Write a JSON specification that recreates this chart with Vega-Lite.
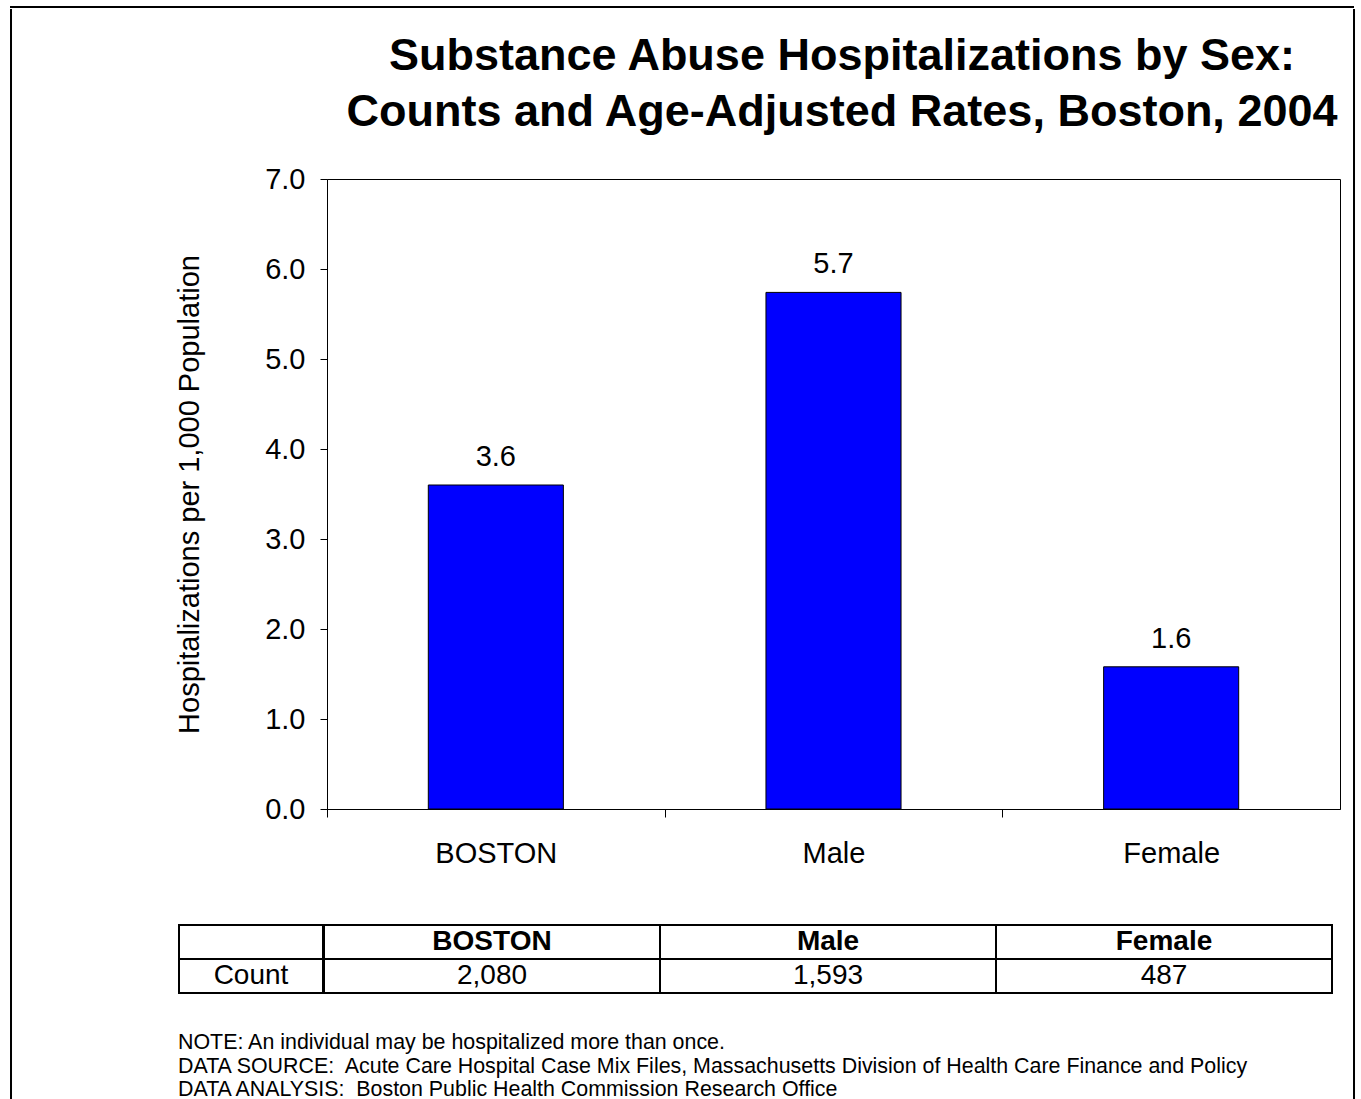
{
  "$schema": "https://vega.github.io/schema/vega-lite/v6.json",
  "background": "white",
  "padding": {"left": 10, "top": 6, "right": 5, "bottom": 0},
  "datasets": {
    "rates": [
      {"group": "BOSTON", "rate": 3.6, "count": 2080},
      {"group": "Male", "rate": 5.74, "count": 1593},
      {"group": "Female", "rate": 1.58, "count": 487}
    ],
    "rowlabels": [
      {"row": "group", "label": ""},
      {"row": "count", "label": "Count"}
    ],
    "empty": []
  },
  "config": {
    "font": "Liberation Sans",
    "view": {"stroke": "black", "strokeWidth": 1},
    "axis": {"domainColor": "black", "tickColor": "black", "labelColor": "black", "titleColor": "black", "grid": false, "labelFont": "Liberation Sans", "titleFont": "Liberation Sans"}
  },
  "resolve": {"scale": {"x": "independent", "y": "independent"}},
  "spacing": 0,
  "vconcat": [
    {
      "width": 1342,
      "height": 0.01,
      "view": {"stroke": "black", "strokeWidth": 2},
      "data": {"name": "empty"},
      "mark": "point"
    },
    {
      "resolve": {"scale": {"x": "independent", "y": "independent"}},
      "spacing": 162,
      "hconcat": [
        {
          "width": 0.01,
          "height": 1100,
          "view": {"stroke": "black", "strokeWidth": 2},
          "data": {"name": "empty"},
          "mark": "point"
        },
        {
          "resolve": {"scale": {"x": "independent", "y": "independent"}},
          "spacing": 12,
          "hconcat": [
            {
              "resolve": {"scale": {"x": "independent", "y": "independent"}},
              "spacing": 29,
              "vconcat": [
                {
                  "width": 1161,
                  "height": 0.01,
                  "view": {"stroke": null},
                  "data": {"name": "empty"},
                  "mark": "point",
                  "title": {
                    "text": ["Substance Abuse Hospitalizations by Sex:", "Counts and Age-Adjusted Rates, Boston, 2004"],
                    "orient": "bottom", "anchor": "middle", "dx": 82.5, "offset": 23.5,
                    "fontSize": 45, "fontWeight": "bold", "lineHeight": 56, "color": "black", "font": "Liberation Sans"
                  }
                },
                {
                  "resolve": {"scale": {"x": "independent", "y": "independent"}},
                  "spacing": 55,
                  "vconcat": [
                    {
                      "resolve": {"scale": {"x": "independent", "y": "independent"}},
                      "spacing": -5,
                      "hconcat": [
                        {
                          "width": 1,
                          "height": 1,
                          "view": {"stroke": null},
                          "data": {"name": "empty"},
                          "mark": "point"
                        },
                        {
                          "width": 1013,
                          "height": 630,
                          "data": {"name": "rates"},
                          "encoding": {
                            "x": {
                              "field": "group", "type": "nominal", "sort": null,
                              "scale": {"paddingInner": 0.6, "paddingOuter": 0.3},
                              "axis": {"title": null, "labelAngle": 0, "labelFontSize": 29, "labelPadding": 22, "tickSize": 8, "tickOffset": -168.83, "labelOffset": 168.83}
                            },
                            "y": {
                              "field": "rate", "type": "quantitative",
                              "scale": {"domain": [0, 7], "nice": false},
                              "axis": {"values": [0, 1, 2, 3, 4, 5, 6, 7], "format": ".1f", "labelFontSize": 29, "labelPadding": 15, "tickSize": 7, "title": "Hospitalizations per 1,000 Population", "titleFontSize": 29, "titleFontWeight": "normal", "titlePadding": 60}
                            }
                          },
                          "layer": [
                            {"mark": {"type": "bar", "fill": "#0000FF", "stroke": "black", "strokeWidth": 1}},
                            {"mark": {"type": "text", "baseline": "alphabetic", "dy": -19, "fontSize": 29, "color": "black"}, "encoding": {"text": {"field": "rate", "type": "quantitative", "format": ".1f"}}}
                          ]
                        }
                      ]
                    },
                    {
                      "resolve": {"scale": {"x": "independent", "y": "independent"}},
                      "spacing": -2,
                      "title": {
                        "text": ["NOTE: An individual may be hospitalized more than once.", "DATA SOURCE:\u00a0 Acute Care Hospital Case Mix Files, Massachusetts Division of Health Care Finance and Policy", "DATA ANALYSIS:\u00a0 Boston Public Health Commission Research Office"],
                        "orient": "bottom", "anchor": "start", "fontSize": 21.4, "fontWeight": "normal", "lineHeight": 23.5, "color": "black", "offset": 38, "font": "Liberation Sans"
                      },
                      "hconcat": [
                        {
                          "width": 144,
                          "height": 68,
                          "view": {"stroke": null},
                          "data": {"name": "rowlabels"},
                          "encoding": {
                            "y": {"field": "row", "type": "nominal", "sort": null, "scale": {"domain": ["group", "count"], "paddingInner": 0, "paddingOuter": 0}, "axis": null}
                          },
                          "layer": [
                            {"mark": {"type": "rect", "fill": "white", "stroke": "black", "strokeWidth": 2}},
                            {"mark": {"type": "text", "fontSize": 28, "color": "black", "baseline": "middle"}, "encoding": {"text": {"field": "label"}}}
                          ]
                        },
                        {
                          "width": 1008,
                          "height": 68,
                          "view": {"stroke": null},
                          "data": {"name": "rates"},
                          "layer": [
                            {
                              "transform": [{"fold": ["group", "count"], "as": ["key", "value"]}],
                              "mark": {"type": "rect", "fill": "white", "stroke": "black", "strokeWidth": 2},
                              "encoding": {
                                "x": {"field": "group", "type": "nominal", "sort": null, "scale": {"paddingInner": 0, "paddingOuter": 0}, "axis": null},
                                "y": {"field": "key", "type": "nominal", "scale": {"domain": ["group", "count"], "paddingInner": 0, "paddingOuter": 0}, "axis": null}
                              }
                            },
                            {
                              "mark": {"type": "text", "fontSize": 28, "fontWeight": "bold", "color": "black", "baseline": "middle"},
                              "encoding": {
                                "x": {"field": "group", "type": "nominal", "sort": null},
                                "y": {"datum": "group", "type": "nominal"},
                                "text": {"field": "group"}
                              }
                            },
                            {
                              "mark": {"type": "text", "fontSize": 28, "color": "black", "baseline": "middle"},
                              "encoding": {
                                "x": {"field": "group", "type": "nominal", "sort": null},
                                "y": {"datum": "count", "type": "nominal"},
                                "text": {"field": "count", "type": "quantitative", "format": ","}
                              }
                            }
                          ]
                        }
                      ]
                    }
                  ]
                }
              ]
            },
            {
              "width": 0.01,
              "height": 1100,
              "view": {"stroke": "black", "strokeWidth": 2},
              "data": {"name": "empty"},
              "mark": "point"
            }
          ]
        }
      ]
    }
  ]
}
